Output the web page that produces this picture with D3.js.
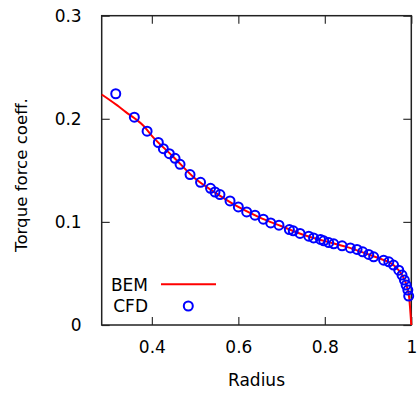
<!DOCTYPE html>
<html lang="en">
<head>
<meta charset="UTF-8">
<title>Torque force coefficient</title>
<style>
  body { margin: 0; background: #fff; }
  svg text { font-family: "DejaVu Sans", sans-serif; fill: #000; }
</style>
</head>
<body>
<div class="chart"></div>
<script src="https://d3js.org/d3.v7.min.js"></script>
<script>
// BEM curve
const bemRadius = [0.284, 0.30, 0.32, 0.34, 0.36, 0.38, 0.40, 0.45, 0.50, 0.55, 0.60, 0.65, 0.70,
                   0.75, 0.80, 0.85, 0.90, 0.93, 0.95, 0.97, 0.98, 0.99, 0.995, 1.0]
const bemTorque = [0.2236, 0.219, 0.213, 0.2065, 0.2005, 0.1935, 0.1835, 0.163, 0.142, 0.1275,
                   0.1145, 0.1042, 0.0958, 0.0875, 0.0814, 0.0758, 0.0686, 0.064, 0.0607, 0.0535,
                   0.0475, 0.037, 0.027, 0.0]

// CFD samples
const cfdRadius = [0.3165, 0.3595, 0.389, 0.415, 0.4266, 0.4405, 0.4536, 0.4652, 0.4883, 0.5126,
                   0.5357, 0.546, 0.5575, 0.5808, 0.600, 0.6193, 0.6385, 0.6578, 0.6749, 0.694,
                   0.718, 0.727, 0.7427, 0.7628, 0.774, 0.790, 0.7975, 0.809, 0.8206, 0.840,
                   0.859, 0.8745, 0.8876, 0.9015, 0.913, 0.936, 0.948, 0.959, 0.971, 0.9785,
                   0.984, 0.988, 0.992, 0.994]
const cfdTorque = [0.2243, 0.2016, 0.188, 0.177, 0.171, 0.1662, 0.1617, 0.1559, 0.1459, 0.1384,
                   0.1326, 0.129, 0.1265, 0.1203, 0.1145, 0.1097, 0.1065, 0.1026, 0.099, 0.0968,
                   0.0926, 0.0913, 0.0888, 0.0862, 0.0845, 0.083, 0.0816, 0.080, 0.0787, 0.0768,
                   0.0748, 0.0733, 0.071, 0.0684, 0.0661, 0.0629, 0.0613, 0.0581, 0.0532, 0.0484,
                   0.0436, 0.0387, 0.0339, 0.0281]

const xTicks = [0.4, 0.6, 0.8, 1]
const yTicks = [0, 0.1, 0.2, 0.3]

const W = 417, H = 395
const margin = {left: 101.7, right: 5.7, top: 15.7, bottom: 70}

const svg = d3.select('.chart').append('svg')
    .attr('width', W).attr('height', H)

const xScale = d3.scaleLinear().domain([0.284, 1]).range([margin.left, W - margin.right])
const yScale = d3.scaleLinear().domain([0, 0.3]).range([H - margin.bottom, margin.top])

const tickLen = 8
const fmt = d => d === 1 ? '1' : (d === 0 ? '0' : d.toFixed(1))

// X axes (bottom with labels, top mirrored)
svg.append('g')
    .attr('transform', 'translate(0,' + yScale(0) + ')')
    .call(d3.axisBottom(xScale).tickValues(xTicks).tickFormat(fmt)
        .tickSizeInner(-tickLen).tickSizeOuter(0).tickPadding(16))
    .call(g => g.select('.domain').remove())
    .selectAll('text').attr('font-size', 17)
svg.append('g')
    .attr('transform', 'translate(0,' + yScale(0.3) + ')')
    .call(d3.axisTop(xScale).tickValues(xTicks).tickFormat('')
        .tickSizeInner(-tickLen).tickSizeOuter(0))
    .call(g => g.select('.domain').remove())

// Y axes
svg.append('g')
    .attr('transform', 'translate(' + xScale(0.284) + ',0)')
    .call(d3.axisLeft(yScale).tickValues(yTicks).tickFormat(fmt)
        .tickSizeInner(-tickLen).tickSizeOuter(0).tickPadding(20))
    .call(g => g.select('.domain').remove())
    .selectAll('text').attr('font-size', 17)
svg.append('g')
    .attr('transform', 'translate(' + xScale(1) + ',0)')
    .call(d3.axisRight(yScale).tickValues(yTicks).tickFormat('')
        .tickSizeInner(-tickLen).tickSizeOuter(0))
    .call(g => g.select('.domain').remove())

svg.selectAll('.tick line').attr('stroke', '#333').attr('stroke-width', 1.2)

// border
svg.append('rect')
    .attr('x', xScale(0.284)).attr('y', yScale(0.3))
    .attr('width', xScale(1) - xScale(0.284))
    .attr('height', yScale(0) - yScale(0.3))
    .attr('fill', 'none').attr('stroke', '#222').attr('stroke-width', 1.5)

// axis titles
svg.append('text')
    .attr('x', (xScale(0.284) + xScale(1)) / 2).attr('y', 386)
    .attr('text-anchor', 'middle').attr('font-size', 17)
    .text('Radius')
svg.append('text')
    .attr('transform', 'translate(27,175) rotate(-90)')
    .attr('text-anchor', 'middle').attr('font-size', 16.6)
    .text('Torque force coeff.')

// BEM line
const line = d3.line()
    .x((d, i) => xScale(bemRadius[i]))
    .y(d => yScale(d))
    .curve(d3.curveMonotoneX)
svg.append('path')
    .datum(bemTorque)
    .attr('d', line)
    .attr('fill', 'none').attr('stroke', '#ff0000').attr('stroke-width', 2)

// CFD circles
svg.selectAll('circle.cfd')
    .data(cfdTorque)
    .enter()
    .append('circle')
    .attr('class', 'cfd')
    .attr('cx', (d, i) => xScale(cfdRadius[i]))
    .attr('cy', d => yScale(d))
    .attr('r', 4.5)
    .attr('fill', 'none').attr('stroke', '#0000ff').attr('stroke-width', 2)

// legend
svg.append('text').attr('x', 148).attr('y', 290.5)
    .attr('text-anchor', 'end').attr('font-size', 17).text('BEM')
svg.append('line')
    .attr('x1', 161).attr('x2', 216).attr('y1', 284.3).attr('y2', 284.3)
    .attr('stroke', '#ff0000').attr('stroke-width', 2)
svg.append('text').attr('x', 148).attr('y', 312.3)
    .attr('text-anchor', 'end').attr('font-size', 17).text('CFD')
svg.append('circle')
    .attr('cx', 188.3).attr('cy', 306).attr('r', 4.5)
    .attr('fill', 'none').attr('stroke', '#0000ff').attr('stroke-width', 2)
</script>
</body>
</html>
